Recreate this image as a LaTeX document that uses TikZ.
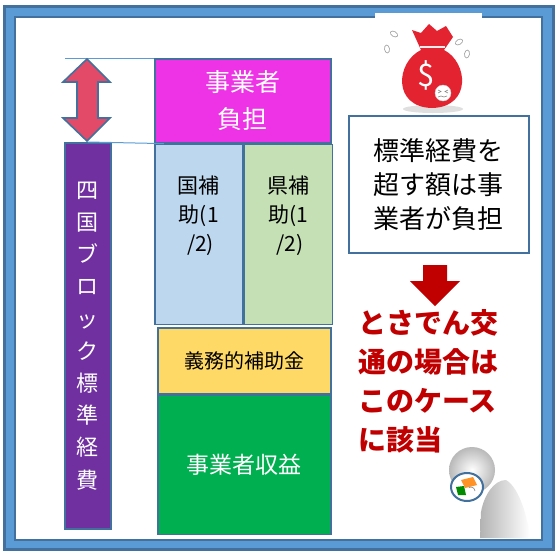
\documentclass[tikz,border=0pt]{standalone}
\usepackage{fontspec}
\setmainfont{Noto Sans CJK JP}
\usepackage{xcolor}
\usepackage{tikz}
\usetikzlibrary{arrows.meta}
\usetikzlibrary{positioning}

\definecolor{frameblue}{HTML}{5B9BD5}
\definecolor{edgeblue}{HTML}{41719C}
\definecolor{futanpink}{HTML}{EE33E6}
\definecolor{blockpurple}{HTML}{7030A0}
\definecolor{kuniblue}{HTML}{BDD7EE}
\definecolor{kengreen}{HTML}{C5E0B4}
\definecolor{gimuyellow}{HTML}{FFD966}
\definecolor{shuekigreen}{HTML}{00B050}
\definecolor{arrowred}{HTML}{E34A68}
\definecolor{darkred}{HTML}{C00000}
\definecolor{bagred}{HTML}{E3232F}

\begin{document}
\begin{tikzpicture}
    [x=1pt, y=-1pt,
      % Stil für Kästen
      box/.style={rectangle, draw=edgeblue, line width=1.6pt, anchor=north west, inner sep=0pt, align=center},
      % Stil für Texte in den Kästen
      hojo/.style={align=center, font=\fontsize{21}{29}\selectfont},
      % Stil für die rote Aussage
      gaitou/.style={align=left, anchor=west, inner sep=0pt, text=darkred, font=\bfseries\fontsize{28}{39}\selectfont},
      node distance=0pt]
    \useasboundingbox (0,0) rectangle (559,555);

    % Rahmen
    \filldraw[fill=frameblue, draw=edgeblue, line width=3pt] (4,6) rectangle (553,549);
    \filldraw[fill=white, draw=edgeblue, line width=2pt] (15,17) rectangle (542,540);

    % Kästen
    \node[box, fill=futanpink, minimum width=176pt, minimum height=84pt, text=white, font=\fontsize{25}{37}\selectfont] (futan) at (154,58) {事業者\\負担};
    \node[box, fill=kuniblue, minimum width=88pt, minimum height=180pt] (kuni) at (futan.south west) {};
    \node[box, fill=kengreen, minimum width=88pt, minimum height=180pt, right=of kuni] (ken) {};
    \node[hojo] (kunitext) at ([yshift=-72pt]kuni.north) {国補\\助(1\\\,/2)};
    \node[hojo] (kentext) at ([yshift=-72pt]ken.north) {県補\\助(1\\\,/2)};
    \node[box, fill=gimuyellow, minimum width=173pt, minimum height=66pt, font=\fontsize{20}{24}\selectfont] (gimu) at (157,327) {義務的補助金};
    \node[box, fill=shuekigreen, minimum width=173pt, minimum height=139pt, text=white, font=\fontsize{23}{28}\selectfont, below=of gimu] (shueki) {事業者収益};
    \node[box, fill=blockpurple, minimum width=46pt, minimum height=386pt, text=white, font=\fontsize{22}{32.2}\selectfont] (block) at (64,142) {四\\国\\ブ\\ロ\\ッ\\ク\\標\\準\\経\\費};

    % Hilfslinien und Doppelpfeil
    \draw[frameblue, line width=1pt] (futan.north west) -- ++(-89,0);
    \draw[frameblue, line width=1pt] (block.north) -- ([xshift=10pt]kuni.north west);
    \filldraw[fill=arrowred, draw=edgeblue, line width=1.6pt]
      (87,59) -- (110,82) -- (98,82) -- (98,118) -- (110,118) -- (87,141)
      -- (63,118) -- (77,118) -- (77,82) -- (63,82) -- cycle;

    % Geldsack
    \fill[white] (375,13) rectangle (482,113);
    \fill[gray!25] (433,109) ellipse (30 and 4);
    \fill[bagred] (421,50) .. controls (396,62) and (392,107) .. (432,108)
      .. controls (472,107) and (468,62) .. (444,50) -- cycle;
    \fill[bagred] (421,50) -- (412,30) -- (421,33) -- (429,24) -- (437,31)
      -- (446,26) -- (453,37) -- (444,50) -- cycle;
    \draw[white!85!gray, line width=2.5pt] (420,47) -- (445,47);
    \node[text=white, font=\fontsize{31}{31}\selectfont] (dollar) at (426,75) {\$};
    \filldraw[fill=white, draw=gray!40] (443,93) circle (8);
    \draw[gray, line width=0.6pt] (438,90) -- (441,91.5) -- (438,93) (448,90) -- (445,91.5) -- (448,93)
      (438,97) -- (441,96) -- (444,97) -- (447,96);
    \foreach \x/\y/\r in {394/34/60, 387/49/10, 459/42/-60, 467/54/-10}
      \draw[gray!70, line width=0.7pt, rotate around={\r:(\x,\y)}] (\x,\y) ellipse (2.5 and 4);

    % Erläuterung
    \node[box, fill=white, minimum width=180pt, minimum height=137pt, font=\fontsize{26}{34}\selectfont] (callout) at (348,115) {標準経費を\\超す額は事\\業者が負担};
    \fill[darkred] (423,265) -- (447,265) -- (447,281) -- (460,281) -- (435,306) -- (410,281) -- (423,281) -- cycle;
    \node[gaitou] (tosaden) at (358,381) {とさでん交\\通の場合は\\このケース\\に該当};

    % Figur mit Lupe
    \shade[left color=gray!60, right color=white] (480,538) -- (481,512)
      .. controls (484,495) and (494,480) .. (506,480)
      .. controls (520,488) and (528,520) .. (530,538) -- cycle;
    \shade[inner color=white, outer color=gray!55] (472,470) circle (23);
    \filldraw[fill=white, draw=edgeblue, line width=2pt] (467,487) ellipse (16 and 14);
    \fill[orange!85] (461,480) -- (473,477) -- (477,485) -- (465,488) -- cycle;
    \fill[green!55!black] (456,487) -- (464,486) -- (466,495) -- (458,495) -- cycle;
    \draw[gray, line width=0.6pt] (475,491) arc (0:-120:4);
\end{tikzpicture}
\end{document}
